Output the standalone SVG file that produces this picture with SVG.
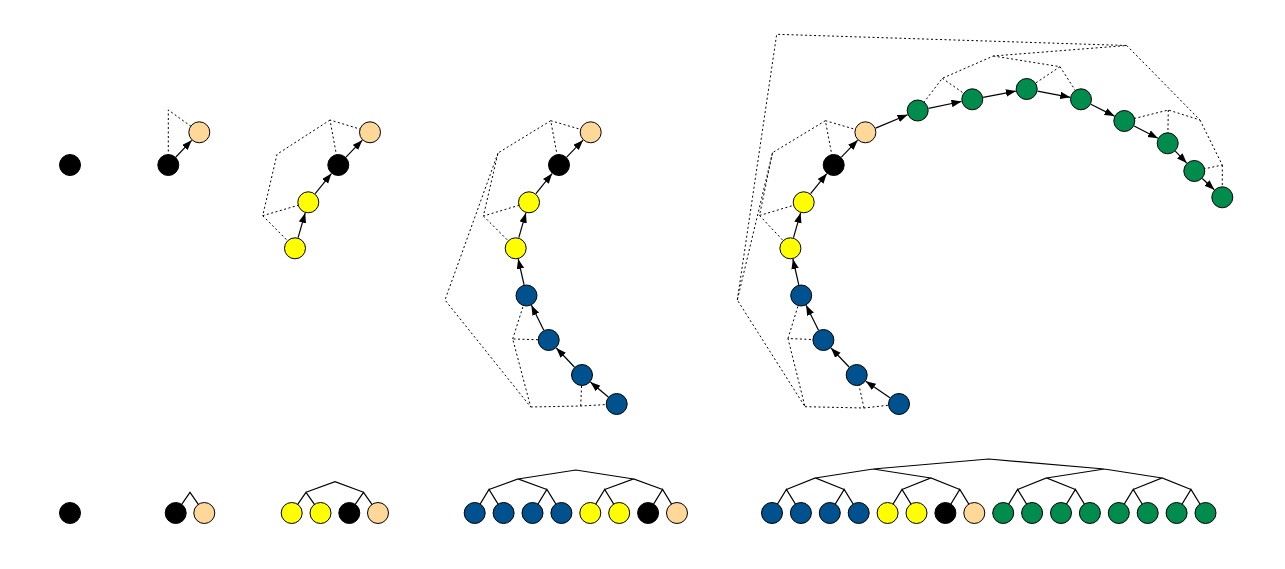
<svg xmlns="http://www.w3.org/2000/svg" width="1285" height="569" viewBox="0 0 1285 569">
<style>
.dash{fill:none;stroke:#000;stroke-width:1;stroke-dasharray:2 2.5}
.arr{fill:none;stroke:#000;stroke-width:1.2;marker-end:url(#ah)}
.tree{fill:none;stroke:#000;stroke-width:1.2}
.n{stroke:#000;stroke-width:1}
.k{fill:#000}
.t{fill:#FDD898}
.y{fill:#FFFF00}
.b{fill:#00528F}
.g{fill:#008C4C}
</style>
<defs>
<marker id="ah" markerUnits="userSpaceOnUse" markerWidth="11" markerHeight="8" refX="10" refY="3.75" orient="auto">
<path d="M0,0 L10,3.75 L0,7.5 z" fill="#000"/>
</marker>
</defs>
<rect width="1285" height="569" fill="#fff"/>
<g id="connectors">
<!-- graph 2 -->
<path class="dash" d="M168.3,165 L168.3,110 L199.3,132.3"/>
<line class="arr" x1="175.9" y1="157" x2="191.7" y2="140.3"/>
<!-- graph 3 -->
<path class="dash" d="M338.3,165 L330,120 L370.7,132.3 M330,120 L277,154.3 L262.7,215.7 L308.3,202.3 M262.7,215.7 L295,248.3"/>
<line class="arr" x1="298.1" y1="237.7" x2="305.2" y2="212.9"/>
<line class="arr" x1="315.2" y1="193.7" x2="331.4" y2="173.6"/>
<line class="arr" x1="346" y1="157.1" x2="362.3" y2="140.2"/>
<!-- graph 4 -->
<path class="dash" d="M559,165 L550.7,120.7 L590.7,132.3 M550.7,120.7 L498,153 L483.4,216 L529,202.3 M483.4,216 L515.7,248.3 M498,153 L445,300 L530.7,407 L512.7,339 L548.7,340 M512.7,339 L526.5,295.5 M530.7,407 L580.7,406 L616.7,404 M580.7,406 L582,375"/>
<line class="arr" x1="518.8" y1="237.7" x2="525.9" y2="212.9"/>
<line class="arr" x1="535.9" y1="193.7" x2="552.1" y2="173.6"/>
<line class="arr" x1="566.7" y1="157.1" x2="583" y2="140.2"/>
<line class="arr" x1="524.1" y1="284.8" x2="518.2" y2="259"/>
<line class="arr" x1="543.8" y1="330.2" x2="531.4" y2="305.3"/>
<line class="arr" x1="574.4" y1="367" x2="556.3" y2="348"/>
<line class="arr" x1="608.3" y1="397" x2="590.4" y2="382"/>
<!-- graph 5 -->
<path class="dash" d="M833.7,165 L825.4,120.7 L865.4,132.3 M825.4,120.7 L772.5,152.7 L759.5,215.5 L803.7,202.3 M759.5,215.5 L790.4,248.3 M772.5,152.7 L737.3,300 L805,406.7 L788,338.5 L823.4,340 M788,338.5 L801.2,295.5 M805,406.7 L864,408 L899,404 M864,408 L856.7,375 M737.3,300 L776.7,34.3 L1126.7,45.5 L993.3,56 L942.3,78.3 L917.7,110.5 M942.3,78.3 L972.3,99.3 M993.3,56 L1060,66.7 L1026.7,89 M1060,66.7 L1081,99.3 M1126.7,45.5 L1200,120 L1168.3,110 L1124.3,121 M1168.3,110 L1167.7,143.3 M1200,120 L1222.3,165 L1194.3,171 M1222.3,165 L1222.3,197.3"/>
<line class="arr" x1="793.5" y1="237.7" x2="800.6" y2="212.9"/>
<line class="arr" x1="810.6" y1="193.7" x2="826.8" y2="173.6"/>
<line class="arr" x1="841.4" y1="157.1" x2="857.7" y2="140.2"/>
<line class="arr" x1="798.8" y1="284.8" x2="792.9" y2="259"/>
<line class="arr" x1="818.5" y1="330.2" x2="806.1" y2="305.3"/>
<line class="arr" x1="849.1" y1="367" x2="831" y2="348"/>
<line class="arr" x1="889.9" y1="397.8" x2="865.8" y2="381.2"/>
<line class="arr" x1="875.6" y1="128.1" x2="907.6" y2="114.7"/>
<line class="arr" x1="928.5" y1="108.3" x2="961.5" y2="101.5"/>
<line class="arr" x1="983.1" y1="97.3" x2="1015.9" y2="91.1"/>
<line class="arr" x1="1037.5" y1="91.1" x2="1070.2" y2="97.3"/>
<line class="arr" x1="1090.8" y1="104.2" x2="1114.5" y2="116.1"/>
<line class="arr" x1="1134.1" y1="126" x2="1157.9" y2="138.3"/>
<line class="arr" x1="1175.3" y1="151.2" x2="1186.7" y2="163.1"/>
<line class="arr" x1="1202.3" y1="178.5" x2="1214.3" y2="189.8"/>
<!-- bottom trees -->
<path class="tree" d="M175.7,513 L190,492.3 L204.3,513"/>
<path class="tree" d="M291.7,513 L306,492.3 L320.5,513 M349.3,513 L363.5,492.3 L378,513 M306,492.3 L335,481.7 L363.5,492.3"/>
<path class="tree" d="M474.7,513 L489,489.5 L503.6,513 M532.5,513 L546.9,489.5 L561.4,513 M590.3,513 L604.7,489.5 L619.2,513 M648.1,513 L662.6,489.5 L677,513 M489,489.5 L518,479 L546.9,489.5 M604.7,489.5 L633.6,479 L662.6,489.5 M518,479 L575.8,470 L633.6,479"/>
<path class="tree" d="M772,513 L786.4,489.5 L800.9,513 M829.8,513 L844.2,489.5 L858.7,513 M887.6,513 L902,489.5 L916.5,513 M945.4,513 L959.8,489.5 L974.3,513 M1003.2,513 L1017.6,489.5 L1032.1,513 M1061,513 L1075.4,489.5 L1089.9,513 M1118.8,513 L1133.2,489.5 L1147.7,513 M1176.6,513 L1191,489.5 L1205.5,513 M786.4,489.5 L815.3,478 L844.2,489.5 M902,489.5 L930.9,478 L959.8,489.5 M1017.6,489.5 L1046.5,478 L1075.4,489.5 M1133.2,489.5 L1162.1,478 L1191,489.5 M815.3,478 L873.1,469 L930.9,478 M1046.5,478 L1104.3,469 L1162.1,478 M873.1,469 L988.7,459 L1104.3,469"/>
</g>
<!-- top graphs -->
<g id="G1-k"><circle class="n k" cx="70" cy="165" r="10.5"/></g>
<g id="G2-k"><circle class="n k" cx="168.3" cy="165" r="10.5"/></g>
<g id="G2-t"><circle class="n t" cx="199.3" cy="132.3" r="10.5"/></g>
<g id="G3-y1"><circle class="n y" cx="295" cy="248.3" r="10.5"/></g>
<g id="G3-y2"><circle class="n y" cx="308.3" cy="202.3" r="10.5"/></g>
<g id="G3-k"><circle class="n k" cx="338.3" cy="165" r="10.5"/></g>
<g id="G3-t"><circle class="n t" cx="370" cy="132.3" r="10.5"/></g>
<g id="G4-b1"><circle class="n b" cx="616.7" cy="404" r="10.5"/></g>
<g id="G4-b2"><circle class="n b" cx="582" cy="375" r="10.5"/></g>
<g id="G4-b3"><circle class="n b" cx="548.7" cy="340" r="10.5"/></g>
<g id="G4-b4"><circle class="n b" cx="526.5" cy="295.5" r="10.5"/></g>
<g id="G4-y1"><circle class="n y" cx="515.7" cy="248.3" r="10.5"/></g>
<g id="G4-y2"><circle class="n y" cx="529" cy="202.3" r="10.5"/></g>
<g id="G4-k"><circle class="n k" cx="559" cy="165" r="10.5"/></g>
<g id="G4-t"><circle class="n t" cx="590.7" cy="132.3" r="10.5"/></g>
<g id="G5-b1"><circle class="n b" cx="899" cy="404" r="10.5"/></g>
<g id="G5-b2"><circle class="n b" cx="856.7" cy="375" r="10.5"/></g>
<g id="G5-b3"><circle class="n b" cx="823.4" cy="340" r="10.5"/></g>
<g id="G5-b4"><circle class="n b" cx="801.2" cy="295.5" r="10.5"/></g>
<g id="G5-y1"><circle class="n y" cx="790.4" cy="248.3" r="10.5"/></g>
<g id="G5-y2"><circle class="n y" cx="803.7" cy="202.3" r="10.5"/></g>
<g id="G5-k"><circle class="n k" cx="833.7" cy="165" r="10.5"/></g>
<g id="G5-t"><circle class="n t" cx="865.4" cy="132.3" r="10.5"/></g>
<g id="G5-g1"><circle class="n g" cx="917.7" cy="110.5" r="10.5"/></g>
<g id="G5-g2"><circle class="n g" cx="972.3" cy="99.3" r="10.5"/></g>
<g id="G5-g3"><circle class="n g" cx="1026.7" cy="89" r="10.5"/></g>
<g id="G5-g4"><circle class="n g" cx="1081" cy="99.3" r="10.5"/></g>
<g id="G5-g5"><circle class="n g" cx="1124.3" cy="121" r="10.5"/></g>
<g id="G5-g6"><circle class="n g" cx="1167.7" cy="143.3" r="10.5"/></g>
<g id="G5-g7"><circle class="n g" cx="1194.3" cy="171" r="10.5"/></g>
<g id="G5-g8"><circle class="n g" cx="1222.3" cy="197.3" r="10.5"/></g>
<!-- bottom rows -->
<g id="R1-k"><circle class="n k" cx="70" cy="513" r="10.5"/></g>
<g id="R2-k"><circle class="n k" cx="175.7" cy="513" r="10.5"/></g>
<g id="R2-t"><circle class="n t" cx="204.3" cy="513" r="10.5"/></g>
<g id="R3-y1"><circle class="n y" cx="291.7" cy="513" r="10.5"/></g>
<g id="R3-y2"><circle class="n y" cx="320.5" cy="513" r="10.5"/></g>
<g id="R3-k"><circle class="n k" cx="349.3" cy="513" r="10.5"/></g>
<g id="R3-t"><circle class="n t" cx="378" cy="513" r="10.5"/></g>
<g id="R4-b1"><circle class="n b" cx="474.7" cy="513" r="10.5"/></g>
<g id="R4-b2"><circle class="n b" cx="503.6" cy="513" r="10.5"/></g>
<g id="R4-b3"><circle class="n b" cx="532.5" cy="513" r="10.5"/></g>
<g id="R4-b4"><circle class="n b" cx="561.4" cy="513" r="10.5"/></g>
<g id="R4-y1"><circle class="n y" cx="590.3" cy="513" r="10.5"/></g>
<g id="R4-y2"><circle class="n y" cx="619.2" cy="513" r="10.5"/></g>
<g id="R4-k"><circle class="n k" cx="648.1" cy="513" r="10.5"/></g>
<g id="R4-t"><circle class="n t" cx="677" cy="513" r="10.5"/></g>
<g id="R5-b1"><circle class="n b" cx="772" cy="513" r="10.5"/></g>
<g id="R5-b2"><circle class="n b" cx="800.9" cy="513" r="10.5"/></g>
<g id="R5-b3"><circle class="n b" cx="829.8" cy="513" r="10.5"/></g>
<g id="R5-b4"><circle class="n b" cx="858.7" cy="513" r="10.5"/></g>
<g id="R5-y1"><circle class="n y" cx="887.6" cy="513" r="10.5"/></g>
<g id="R5-y2"><circle class="n y" cx="916.5" cy="513" r="10.5"/></g>
<g id="R5-k"><circle class="n k" cx="945.4" cy="513" r="10.5"/></g>
<g id="R5-t"><circle class="n t" cx="974.3" cy="513" r="10.5"/></g>
<g id="R5-g1"><circle class="n g" cx="1003.2" cy="513" r="10.5"/></g>
<g id="R5-g2"><circle class="n g" cx="1032.1" cy="513" r="10.5"/></g>
<g id="R5-g3"><circle class="n g" cx="1061" cy="513" r="10.5"/></g>
<g id="R5-g4"><circle class="n g" cx="1089.9" cy="513" r="10.5"/></g>
<g id="R5-g5"><circle class="n g" cx="1118.8" cy="513" r="10.5"/></g>
<g id="R5-g6"><circle class="n g" cx="1147.7" cy="513" r="10.5"/></g>
<g id="R5-g7"><circle class="n g" cx="1176.6" cy="513" r="10.5"/></g>
<g id="R5-g8"><circle class="n g" cx="1205.5" cy="513" r="10.5"/></g>
</svg>
